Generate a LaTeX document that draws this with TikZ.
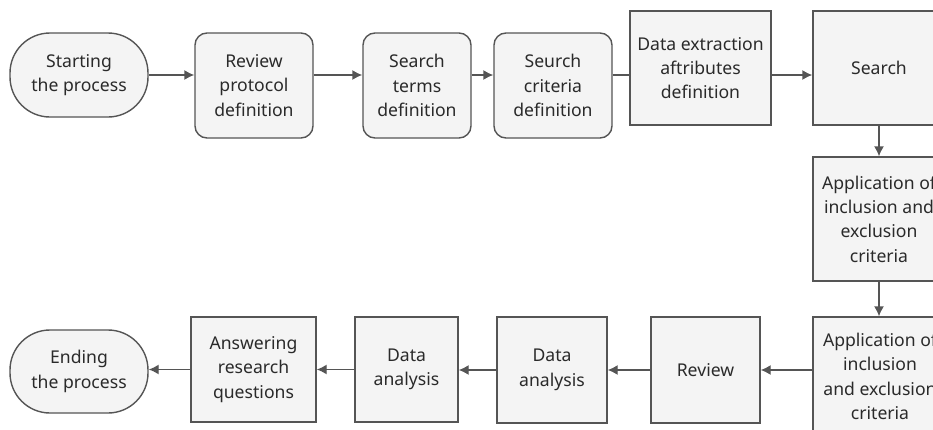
\documentclass[tikz,border=0pt]{standalone}
\usepackage{fontspec}
\setmainfont{Noto Sans}
\usetikzlibrary{arrows.meta}
\definecolor{boxfill}{HTML}{F4F4F4}
\definecolor{edge}{HTML}{555555}
\definecolor{txt}{HTML}{2A2A2A}
\tikzset{
  base/.style={draw=edge, fill=boxfill, line width=0.7pt, text=txt, align=center,
    inner sep=0pt, font=\fontsize{8.8}{12.2}\selectfont},
  term/.style={base, rounded corners=20pt},
  rbox/.style={base, rounded corners=6pt},
  sbox/.style={base},
  conn/.style={draw=edge, line width=0.7pt},
  arr/.style={conn, -{Latex[length=5pt,width=5pt]}}
}
\begin{document}
\begin{tikzpicture}[x=0.5pt,y=-0.5pt]
\clip (0,0) rectangle (933,429);
\fill[white] (0,0) rectangle (933,429);
% top row
\node[term, minimum width=69pt, minimum height=42pt] (start) at (79,75) {Starting\\the process};
\node[rbox, minimum width=59pt, minimum height=52.5pt] (review) at (254,85.5) {Review\\protocol\\definition};
\node[rbox, minimum width=54pt, minimum height=52.5pt] (terms) at (417,85.5) {Search\\terms\\definition};
\node[rbox, minimum width=59pt, minimum height=52.5pt] (seurch) at (553,85.5) {Seurch\\criteria\\definition};
\node[sbox, minimum width=70.5pt, minimum height=57pt] (dx) at (700.5,68) {Data extraction\\aftributes\\definition};
\node[sbox, minimum width=66pt, minimum height=57pt] (search) at (879,68) {Search};
% right column
\node[sbox, minimum width=66pt, minimum height=62pt] (app1) at (879,219) {Application of\\inclusion and\\exclusion\\criteria};
\node[sbox, minimum width=66pt, minimum height=63pt] (app2) at (879,380) {};
\node[text=txt, align=center, inner sep=0pt, font=\fontsize{8.8}{12.2}\selectfont] (app2t) at (880,376.5) {Application of\\inclusion\\and exclusion\\criteria};
% bottom row
\node[sbox, minimum width=54.5pt, minimum height=53pt] (rev2) at (705.5,370) {Review};
\node[sbox, minimum width=55pt, minimum height=53pt] (da2) at (552,370) {Data\\analysis};
\node[sbox, minimum width=51.5pt, minimum height=52.5pt] (da1) at (406.5,369.5) {Data\\analysis};
\node[sbox, minimum width=62.5pt, minimum height=52.5pt] (ans) at (253.5,369.5) {Answering\\research\\questions};
\node[term, minimum width=69pt, minimum height=41.5pt] (end) at (79,371.5) {Ending\\the process};
% connectors top row
\draw[arr] (start.east) -- (start.east -| review.west);
\draw[arr] (review.east |- start.east) -- (terms.west |- start.east);
\draw[arr] (terms.east |- start.east) -- (seurch.west |- start.east);
\draw[conn] (seurch.east |- start.east) -- (dx.west |- start.east);
\draw[arr] (dx.east |- start.east) -- (search.west |- start.east);
% right column
\draw[arr] (search.south) -- (app1.north);
\draw[arr] (app1.south) -- (app2.north);
% bottom row
\draw[arr] (app2.west |- rev2.east) -- (rev2.east);
\draw[arr] (rev2.west) -- (da2.east);
\draw[arr] (da2.west) -- (da2.west -| da1.east);
\draw[arr] (da1.west) -- (da1.west -| ans.east);
\draw[arr] (ans.west) -- (ans.west -| end.east);
\end{tikzpicture}
\end{document}
